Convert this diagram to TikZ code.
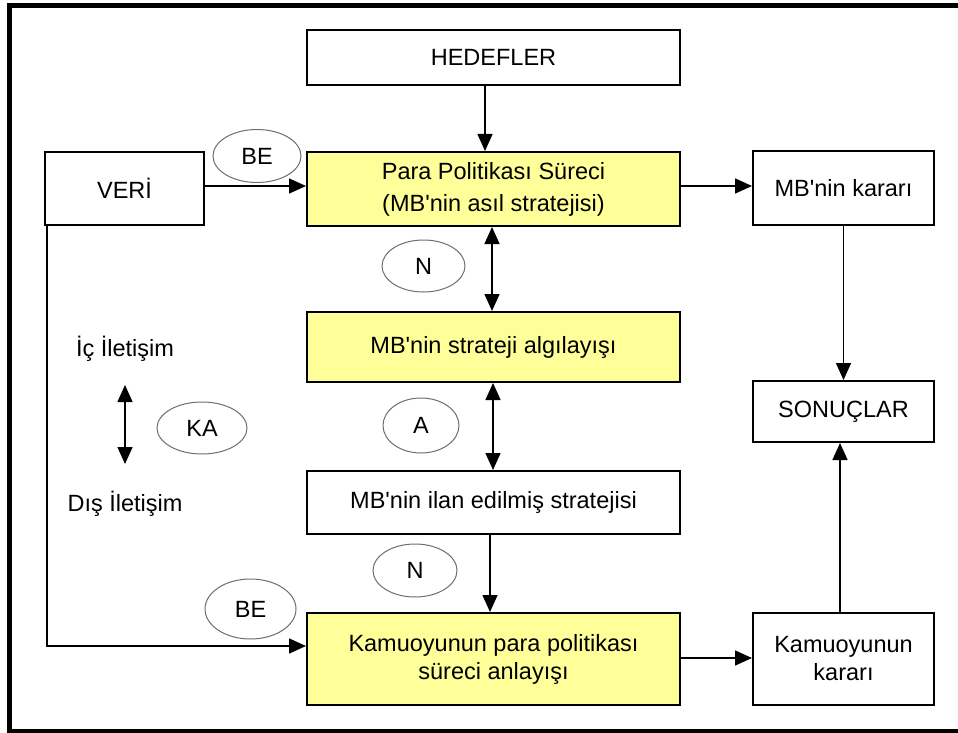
\documentclass[tikz,border=0pt]{standalone}
\usepackage{fontspec}
\setmainfont{Liberation Sans}
\usetikzlibrary{arrows.meta,shapes.geometric}
\definecolor{boxyellow}{RGB}{255,255,153}
\definecolor{ellgray}{RGB}{110,110,110}
\newcommand{\apo}{\textquotesingle}
\tikzset{
  box/.style={draw=black, line width=2pt, rectangle, inner sep=0pt, align=center,
    font=\fontsize{23.5}{32}\selectfont},
  ybox/.style={box, fill=boxyellow},
  oval/.style={draw=ellgray, line width=1pt, ellipse, inner sep=0pt,
    font=\fontsize{23.5}{28}\selectfont},
  lbl/.style={inner sep=0pt, font=\fontsize{23.5}{28}\selectfont},
  arr/.style={line width=1.5pt, -{Triangle[length=17pt,width=15pt]}},
  darr/.style={line width=1.5pt, {Triangle[length=17pt,width=15pt]}-{Triangle[length=17pt,width=15pt]}}
}
\begin{document}
\begin{tikzpicture}[x=1pt,y=-1pt]
\useasboundingbox (0,0) rectangle (958,733);
% outer frame (right side runs off the picture)
\draw[line width=4.5pt] (958,5.5) -- (9.5,5.5) -- (9.5,731) -- (958,731);

% boxes
\node[box, minimum width=373pt, minimum height=55pt] (hed) at (493.5,57.5) {HEDEFLER};
\node[ybox, minimum width=373pt, minimum height=74pt] (para) at (493.5,189) {Para Politikası Süreci\\(MB\apo nin asıl stratejisi)};
\node[box, minimum width=159pt, minimum height=73pt] (veri) at (124.5,188.5) {VERİ};
\node[box, minimum width=181pt, minimum height=74pt] (mbk) at (843.5,188) {MB\apo nin kararı};
\node[ybox, minimum width=373pt, minimum height=70pt] (alg) at (493.5,347) {MB\apo nin strateji algılayışı};
\node[box, minimum width=181pt, minimum height=61pt] (son) at (843.5,411.5) {SONUÇLAR};
\node[box, minimum width=373pt, minimum height=63pt] (ilan) at (493.5,502.5) {MB\apo nin ilan edilmiş stratejisi};
\node[ybox, minimum width=373pt, minimum height=92pt, font=\fontsize{23.5}{28}\selectfont] (kpara) at (493.5,659) {Kamuoyunun para politikası\\süreci anlayışı};
\node[box, minimum width=181pt, minimum height=92pt, font=\fontsize{23.5}{28}\selectfont] (kkarar) at (843.5,659) {Kamuoyunun\\kararı};

% ovals
\node[oval, minimum width=88pt, minimum height=53pt] (be1) at (257,156) {BE};
\node[oval, minimum width=83pt, minimum height=52pt] (n1) at (423.5,266) {N};
\node[oval, minimum width=76pt, minimum height=55pt] (a) at (421,425.5) {A};
\node[oval, minimum width=90pt, minimum height=52pt] (ka) at (202,428) {KA};
\node[oval, minimum width=84pt, minimum height=53pt] (n2) at (415,570.5) {N};
\node[oval, minimum width=91pt, minimum height=60pt] (be2) at (250.5,609) {BE};

% side labels
\node[lbl, anchor=base] (ic) at (125,356) {İç İletişim};
\node[lbl, anchor=base] (dis) at (125,511) {Dış İletişim};

% helper coordinates
\coordinate (x1) at (485,0);
\coordinate (x2) at (492,0);
\coordinate (x3) at (493,0);
\coordinate (x4) at (490,0);
\coordinate (y1) at (0,186);
\coordinate (x5) at (840,0);
\coordinate (y2) at (0,658);
\coordinate (vk) at (47,646);
\coordinate (ka1) at (125,385);
\coordinate (ka2) at (125,464);

% connectors
\draw[arr] (hed.south -| x1) -- (para.north -| x1);
\draw[darr] (para.south -| x2) -- (alg.north -| x2);
\draw[darr] (alg.south -| x3) -- (ilan.north -| x3);
\draw[arr] (ilan.south -| x4) -- (kpara.north -| x4);
\draw[arr] (veri.east |- y1) -- (para.west |- y1);
\draw[arr] (para.east |- y1) -- (mbk.west |- y1);
\draw[arr] (mbk.south) -- (son.north);
\draw[arr] (kkarar.north -| x5) -- (son.south -| x5);
\draw[arr] (kpara.east |- y2) -- (kkarar.west |- y2);
\draw[arr] (veri.south -| vk) |- (kpara.west |- vk);
\draw[darr] (ka1) -- (ka2);
\end{tikzpicture}
\end{document}
